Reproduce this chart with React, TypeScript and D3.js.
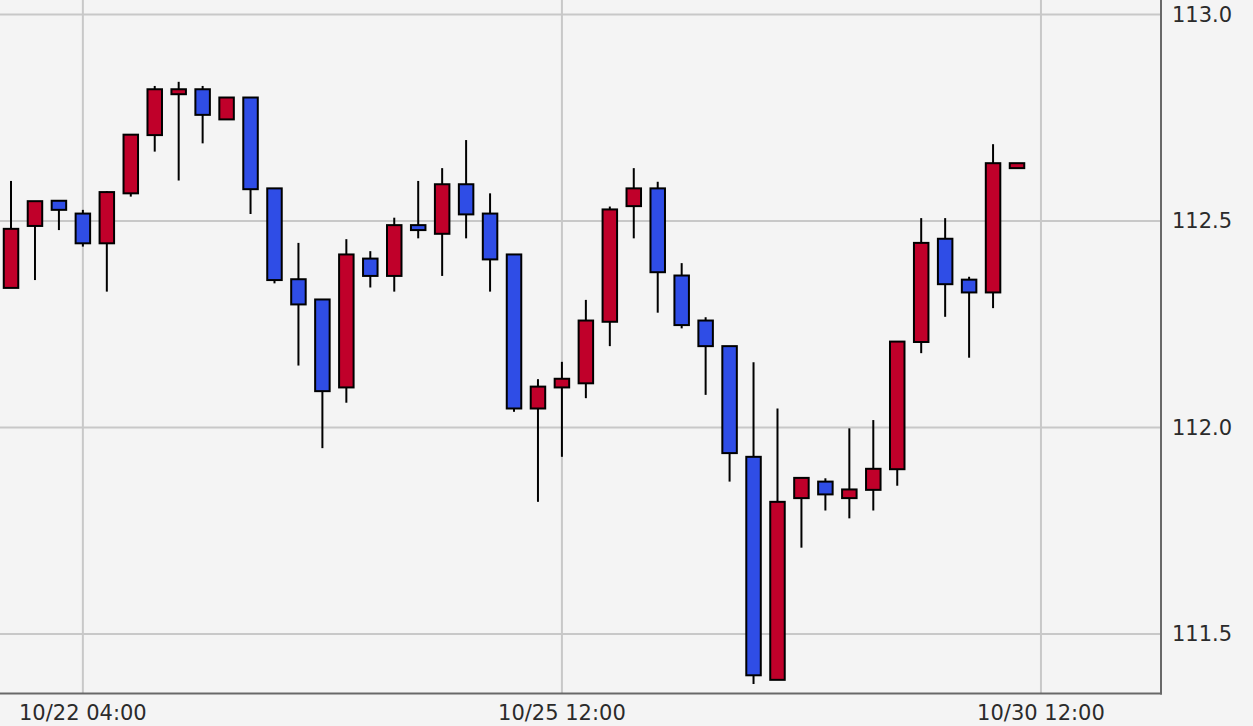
import * as d3 from 'd3';

// 4h candles
const opens = [
  112.338, 112.488, 112.549, 112.518, 112.446, 112.567, 112.708, 112.807, 112.819, 112.746,
  112.799, 112.579, 112.359, 112.310, 112.097, 112.409, 112.367, 112.490, 112.469, 112.589,
  112.518, 112.419, 112.046, 112.097, 112.107, 112.256, 112.536, 112.579, 112.368, 112.259,
  112.197, 111.929, 111.389, 111.829, 111.869, 111.829, 111.849, 111.899, 112.207, 112.457,
  112.358, 112.327, 112.628,
];
const highs = [
  112.597, 112.548, 112.550, 112.527, 112.572, 112.709, 112.827, 112.837, 112.827, 112.799,
  112.799, 112.579, 112.447, 112.310, 112.456, 112.427, 112.508, 112.597, 112.628, 112.696,
  112.567, 112.419, 112.117, 112.159, 112.309, 112.535, 112.628, 112.595, 112.398, 112.267,
  112.197, 112.158, 112.046, 111.878, 111.877, 111.998, 112.018, 112.208, 112.507, 112.507,
  112.365, 112.686, 112.640,
];
const lows = [
  112.338, 112.357, 112.478, 112.438, 112.329, 112.559, 112.668, 112.598, 112.688, 112.746,
  112.517, 112.349, 112.150, 111.950, 112.060, 112.339, 112.329, 112.458, 112.367, 112.458,
  112.329, 112.038, 111.820, 111.929, 112.071, 112.197, 112.458, 112.278, 112.240, 112.079,
  111.869, 111.379, 111.389, 111.709, 111.799, 111.780, 111.799, 111.859, 112.180, 112.268,
  112.169, 112.289, 112.628,
];
const closes = [
  112.481, 112.548, 112.527, 112.446, 112.570, 112.709, 112.819, 112.819, 112.757, 112.799,
  112.577, 112.357, 112.298, 112.088, 112.419, 112.367, 112.490, 112.478, 112.589, 112.516,
  112.407, 112.046, 112.099, 112.118, 112.259, 112.528, 112.579, 112.376, 112.248, 112.197,
  111.938, 111.400, 111.820, 111.878, 111.838, 111.850, 111.900, 112.208, 112.447, 112.347,
  112.327, 112.640, 112.640,
];

const yTicks = [111.5, 112.0, 112.5, 113.0];
const xTickSlots = [3, 23, 43];
const xTickLabels = ['10/22 04:00', '10/25 12:00', '10/30 12:00'];

const UP = '#c0002a';
const DOWN = '#2f4de6';
const FONT = '"DejaVu Sans", Verdana, sans-serif';

export default function App() {
  const width = 1253;
  const height = 726;
  const plotRight = 1161;
  const plotBottom = 693.5;

  const x = d3.scaleLinear().domain([-0.46, 47.97]).range([0, 1160]);
  const y = d3.scaleLinear().domain([111.5, 113.0]).range([634, 14.5]);

  const bodyW = 14.5;

  return (
    <svg
      width={width}
      height={height}
      style={{ position: 'absolute', left: 0, top: 0, display: 'block', background: '#f4f4f4' }}
    >
      <rect x={0} y={0} width={width} height={height} fill="#f4f4f4" />

      {/* gridlines */}
      <g stroke="#c8c8c8" strokeWidth={2}>
        {yTicks.map(t => (
          <line key={'h' + t} x1={0} x2={plotRight} y1={y(t)} y2={y(t)} />
        ))}
        {xTickSlots.map(s => (
          <line key={'v' + s} x1={x(s)} x2={x(s)} y1={0} y2={plotBottom} />
        ))}
      </g>

      {/* candles */}
      <g>
        {opens.map((o, i) => {
          const c = closes[i];
          const up = c >= o;
          const top = y(Math.max(o, c));
          const bot = y(Math.min(o, c));
          const cx = x(i);
          return (
            <g key={i}>
              <line
                x1={cx}
                x2={cx}
                y1={y(highs[i])}
                y2={y(lows[i])}
                stroke="#000"
                strokeWidth={2}
              />
              <rect
                x={cx - bodyW / 2}
                y={top}
                width={bodyW}
                height={Math.max(bot - top, 1)}
                fill={up ? UP : DOWN}
                stroke="#000"
                strokeWidth={2}
              />
            </g>
          );
        })}
      </g>

      {/* frame */}
      <g stroke="#686868" strokeWidth={2}>
        <line x1={plotRight} x2={plotRight} y1={0} y2={plotBottom + 1} />
        <line x1={0} x2={plotRight + 1} y1={plotBottom} y2={plotBottom} />
      </g>

      {/* y labels */}
      <g fontFamily={FONT} fontSize={21} fill="#2b2b2b">
        {yTicks.map(t => (
          <text key={t} x={1172} y={y(t)} dy="0.35em">
            {t.toFixed(1)}
          </text>
        ))}
      </g>

      {/* x labels */}
      <g fontFamily={FONT} fontSize={21} fill="#2b2b2b" textAnchor="middle">
        {xTickSlots.map((s, k) => (
          <text key={s} x={x(s)} y={720}>
            {xTickLabels[k]}
          </text>
        ))}
      </g>
    </svg>
  );
}
